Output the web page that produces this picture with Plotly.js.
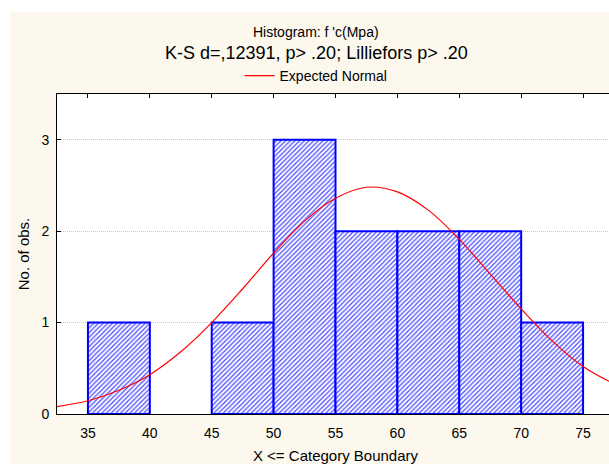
<!DOCTYPE html>
<html>
<head>
<meta charset="utf-8">
<script src="https://cdn.plot.ly/plotly-3.0.1.min.js"></script>
<style>
html,body{margin:0;padding:0;background:#ffffff;overflow:hidden;width:609px;height:464px;}
#chart{position:absolute;left:10px;top:12px;width:610px;height:460px;}
</style>
</head>
<body>
<div id="chart"></div>
<script>
// Histogram bins (upper boundary categories) and counts
var binStarts = [35, 40, 45, 50, 55, 60, 65, 70];
var binCounts = [1, 0, 1, 3, 2, 2, 2, 1];
var binWidth = 5;

// Expected normal curve
var normX = [32.5, 35, 37.5, 40, 42.5, 45, 47.5, 50, 52.5, 55, 57.5, 60, 62.5, 65, 67.5, 70, 72.5, 75, 77.5];
var normY = [0.08, 0.145, 0.26, 0.43, 0.68, 1.0, 1.37, 1.76, 2.11, 2.36, 2.48, 2.43, 2.23, 1.91, 1.53, 1.15, 0.80, 0.52, 0.33];

var xTicks = [35, 40, 45, 50, 55, 60, 65, 70, 75];
var yTicks = [0, 1, 2, 3];

var titleLine1 = "Histogram: f 'c(Mpa)";
var titleLine2 = "K-S d=,12391, p> .20; Lilliefors p> .20";
var seriesName = "Expected Normal";

var barY = binCounts.map(function(v){ return v === 0 ? null : v; });

var traces = [
  {
    type: 'bar',
    x: binStarts,
    y: barY,
    width: binWidth,
    offset: 0,
    showlegend: false,
    hoverinfo: 'skip',
    marker: {
      color: '#ffffff',
      line: {color: '#0000ff', width: 2},
      pattern: {shape: '/', fgcolor: '#4c4cff', bgcolor: '#ffffff', size: 3.3, solidity: 0.38}
    }
  },
  {
    type: 'scatter',
    mode: 'lines',
    x: normX,
    y: normY,
    name: seriesName,
    line: {color: '#ff0000', width: 1.2, shape: 'spline'}
  }
];

var fontFam = 'Liberation Sans, Arial, sans-serif';

var layout = {
  width: 610,
  height: 460,
  margin: {l: 47, r: 6, t: 82, b: 58},
  paper_bgcolor: '#fcf8ee',
  plot_bgcolor: '#ffffff',
  bargap: 0,
  font: {family: fontFam, size: 14, color: '#000000'},
  showlegend: true,
  legend: {
    x: 0.465, xanchor: 'center', y: 1.056, yanchor: 'middle',
    orientation: 'h', bgcolor: 'rgba(0,0,0,0)',
    font: {family: fontFam, size: 14}
  },
  xaxis: {
    range: [32.5, 77.5],
    tickvals: xTicks,
    ticks: 'inside', ticklen: 4, tickcolor: '#000000',
    showline: true, linecolor: '#000000', linewidth: 1, mirror: 'ticks',
    showgrid: false, zeroline: false,
    tickfont: {size: 14},
    ticklabelstandoff: 6,
    title: {text: 'X <= Category Boundary', font: {size: 15}, standoff: 10}
  },
  yaxis: {
    range: [0, 3.5],
    tickvals: yTicks,
    ticks: 'inside', ticklen: 4, tickcolor: '#000000',
    showline: true, linecolor: '#000000', linewidth: 1, mirror: 'ticks',
    showgrid: true, gridcolor: '#c8c8c8', griddash: '1px,1px', gridwidth: 1,
    zeroline: false,
    tickfont: {size: 14},
    ticklabelstandoff: 4,
    title: {text: 'No. of obs.', font: {size: 15}, standoff: 8}
  },
  annotations: [
    {text: titleLine1, xref: 'paper', yref: 'paper', x: 0.465, y: 1.195, xanchor: 'center', yanchor: 'middle', showarrow: false, font: {size: 14}},
    {text: titleLine2, xref: 'paper', yref: 'paper', x: 0.465, y: 1.128, xanchor: 'center', yanchor: 'middle', showarrow: false, font: {size: 18}}
  ]
};

Plotly.newPlot('chart', traces, layout, {displayModeBar: false, staticPlot: true});
</script>
</body>
</html>
